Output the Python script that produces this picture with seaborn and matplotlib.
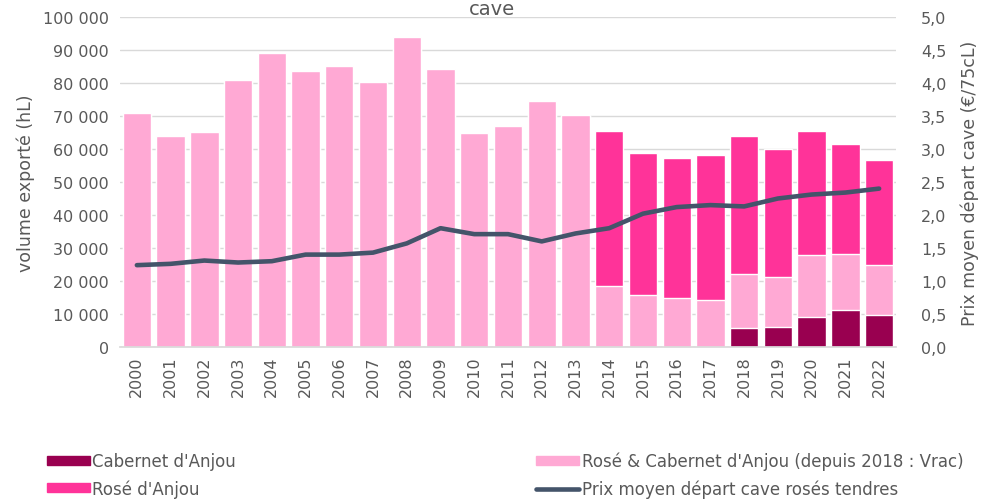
import numpy as np
import pandas as pd
import matplotlib
matplotlib.use("Agg")
import matplotlib.pyplot as plt
import seaborn as sns
from matplotlib.ticker import FuncFormatter, MultipleLocator
from matplotlib.patches import Patch
from matplotlib.lines import Line2D

years = [str(y) for y in range(2000, 2023)]
cabernet = [0]*18 + [5800, 6100, 9100, 11300, 9700]
rose_vrac = [71000, 64000, 65300, 81000, 89200, 83600, 85200, 80400, 94000, 84200,
             65000, 67000, 74400, 70200, 18500, 15800, 14800, 14100,
             16200, 15000, 18900, 17000, 15000]
rose_anjou = [0]*14 + [47100, 43100, 42500, 44200, 41800, 38800, 37400, 33200, 31900]
prix = [1.24, 1.26, 1.31, 1.28, 1.30, 1.40, 1.40, 1.43, 1.57, 1.80, 1.71, 1.71,
        1.60, 1.72, 1.80, 2.02, 2.12, 2.15, 2.13, 2.25, 2.31, 2.34, 2.40]

c_cab = "#990050"
c_anjou = "#FF3399"
c_vrac = "#FFA9D4"
c_line = "#44546A"
txt = "#595959"

sns.set_theme(style="white")
plt.rcParams['font.family'] = ['DejaVu Sans']

df = pd.DataFrame({"year": years, "cab": cabernet, "vrac": rose_vrac,
                   "anjou": rose_anjou, "prix": prix})
df["lvl1"] = df["cab"]
df["lvl2"] = df["cab"] + df["vrac"]
df["lvl3"] = df["lvl2"] + df["anjou"]

fig = plt.figure(figsize=(9.84, 5.02), dpi=100)
ax = fig.add_axes([120/984, 1-348/502, 776/984, 330/502])

for col, color in [("lvl3", c_anjou), ("lvl2", c_vrac), ("lvl1", c_cab)]:
    sns.barplot(data=df, x="year", y=col, color=color, width=0.84,
                saturation=1, ax=ax, zorder=2)

ax.set_xlim(-0.5, len(years) - 0.5)
ax.set_ylim(0, 100000)
ax.yaxis.set_major_locator(MultipleLocator(10000))
ax.yaxis.set_major_formatter(FuncFormatter(lambda v, p: f"{int(v):,}".replace(",", " ")))
ax.grid(axis="y", color="#d9d9d9", lw=1, zorder=0)
ax.set_axisbelow(True)
for s in ["top", "left", "right"]:
    ax.spines[s].set_visible(False)
ax.spines["bottom"].set_color("#d9d9d9")
ax.tick_params(axis="x", rotation=90, labelsize=11.5, colors=txt, length=0, pad=6)
ax.tick_params(axis="y", labelsize=11.5, colors=txt, length=0, pad=8)
ax.set_xlabel("")
ax.set_ylabel("volume exporté (hL)", fontsize=12.5, color=txt, labelpad=6)

ax2 = ax.twinx()
sns.lineplot(x=np.arange(len(years)), y=df["prix"], color=c_line, lw=3.3,
             ax=ax2, zorder=3, solid_capstyle="round")
ax2.set_ylim(0, 5)
ax2.yaxis.set_major_locator(MultipleLocator(0.5))
ax2.yaxis.set_major_formatter(FuncFormatter(lambda v, p: f"{v:.1f}".replace(".", ",")))
for s in ["top", "left", "right", "bottom"]:
    ax2.spines[s].set_visible(False)
ax2.tick_params(axis="y", labelsize=11.5, colors=txt, length=0, pad=18)
ax2.set_ylabel("Prix moyen départ cave (€/75cL)", fontsize=12.5, color=txt, labelpad=10)
ax2.grid(False)
ax2.set_xlim(-0.5, len(years) - 0.5)

fig.text(0.5, 1.0, "cave", ha="center", va="top", fontsize=14, color=txt)

handles = [Patch(color=c_cab, label="Cabernet d'Anjou"),
           Patch(color=c_anjou, label="Rosé d'Anjou"),
           Patch(color=c_vrac, label="Rosé & Cabernet d'Anjou (depuis 2018 : Vrac)"),
           Line2D([0], [0], color=c_line, lw=3.3, solid_capstyle="round",
                  label="Prix moyen départ cave rosés tendres")]
leg = fig.legend(handles=handles, ncol=2, loc="upper left",
                 bbox_to_anchor=(40/984, 0.0, 930/984, 1 - 446/502), mode="expand",
                 frameon=False, fontsize=12, handlelength=2.6, handleheight=0.45,
                 handletextpad=0.15, labelspacing=0.55, borderaxespad=0.0)
for t in leg.get_texts():
    t.set_color(txt)

fig.savefig("out.png", dpi=100)
